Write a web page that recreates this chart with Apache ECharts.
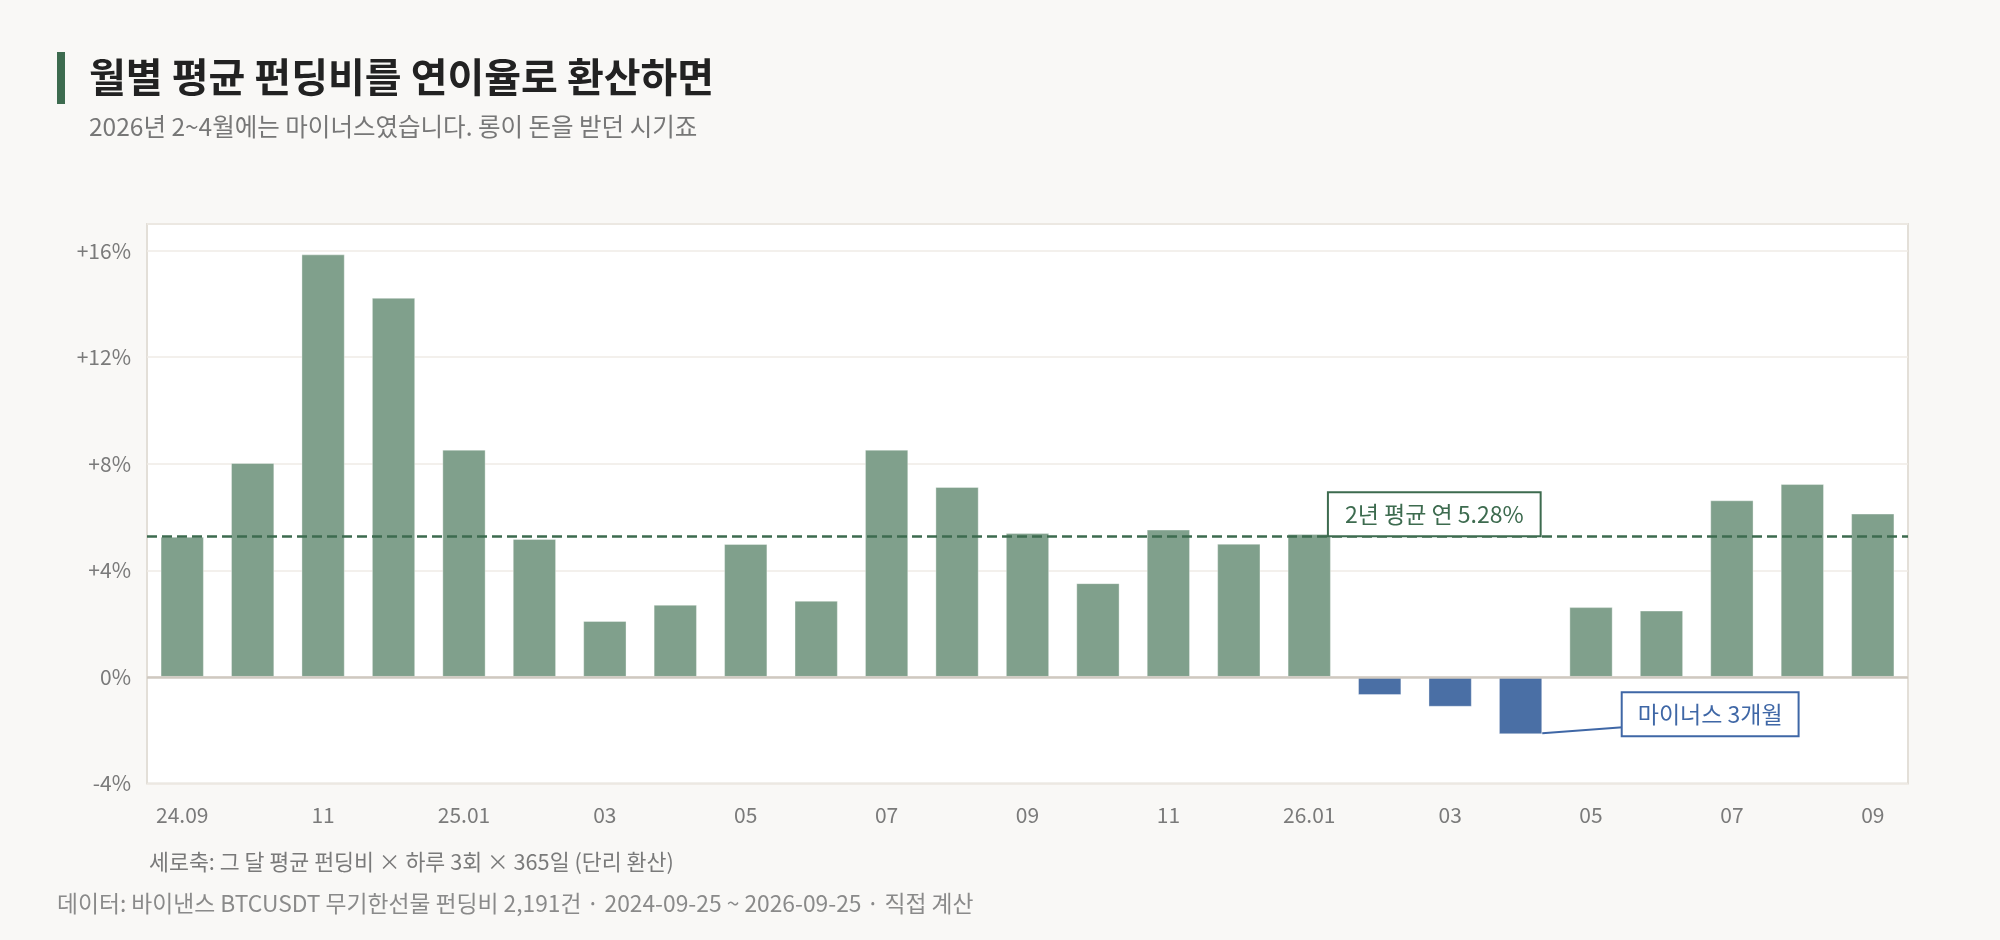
<!DOCTYPE html>
<html><head><meta charset="utf-8">
<script src="https://cdn.jsdelivr.net/npm/echarts@6/dist/echarts.min.js"></script>
<style>html,body{margin:0;padding:0;background:#f9f8f6;}#c{width:2000px;height:940px;}</style>
</head><body><div id="c"></div>
<script>
const months = ['2024-09','2024-10','2024-11','2024-12','2025-01','2025-02','2025-03','2025-04','2025-05','2025-06','2025-07','2025-08','2025-09','2025-10','2025-11','2025-12','2026-01','2026-02','2026-03','2026-04','2026-05','2026-06','2026-07','2026-08','2026-09'];
const tickLabels = ['24.09','10','11','12','25.01','02','03','04','05','06','07','08','09','10','11','12','26.01','02','03','04','05','06','07','08','09'];
const fundingAnnual = [5.26, 8.03, 15.86, 14.23, 8.53, 5.18, 2.10, 2.71, 4.99, 2.86, 8.53, 7.13, 5.40, 3.52, 5.53, 5.00, 5.36, -0.68, -1.12, -2.15, 2.62, 2.49, 6.63, 7.24, 6.13];
const twoYearAvg = 5.28;
const yMin = -4, yMax = 17, yStep = 4;

const FONT = '"Noto Sans CJK KR", "Noto Sans", sans-serif';
const GREEN = '#80a08c', BLUE = '#4a6fa5', DARK = '#3d6b4f', LABEL_BLUE = '#3f67a6';
const BAR_RATIO = 0.615;

const chart = echarts.init(document.getElementById('c'));
const option = {
  backgroundColor: '#f9f8f6',
  animation: false,
  textStyle: { fontFamily: FONT },
  title: [
    { text: '월별 평균 펀딩비를 연이율로 환산하면', left: 89, top: 53, padding: 0,
      textStyle: { fontSize: 40, fontWeight: 'bold', color: '#222', lineHeight: 48, fontFamily: FONT } },
    { text: '2026년 2~4월에는 마이너스였습니다. 롱이 돈을 받던 시기죠', left: 89, top: 112, padding: 0,
      textStyle: { fontSize: 24.5, fontWeight: 'normal', color: '#777', lineHeight: 30, fontFamily: FONT } },
    { text: '세로축: 그 달 평균 펀딩비 × 하루 3회 × 365일 (단리 환산)', left: 149, top: 849, padding: 0,
      textStyle: { fontSize: 21.7, fontWeight: 'normal', color: '#7a7a7a', lineHeight: 26, fontFamily: FONT } },
    { text: '데이터: 바이낸스 BTCUSDT 무기한선물 펀딩비 2,191건 · 2024-09-25 ~ 2026-09-25 · 직접 계산', left: 57, top: 890, padding: 0,
      textStyle: { fontSize: 22.8, fontWeight: 'normal', color: '#8a8a8a', lineHeight: 26, fontFamily: FONT } }
  ],
  grid: { left: 147, right: 92, top: 224, bottom: 156.5, show: true, backgroundColor: '#ffffff',
          borderColor: '#e3dfd8', borderWidth: 2, containLabel: false },
  xAxis: {
    type: 'category', data: months,
    axisLine: { show: false }, axisTick: { show: false },
    axisLabel: { interval: 1, margin: 21, fontSize: 21, color: '#7a7a7a', fontFamily: FONT,
                 formatter: (v, i) => tickLabels[i] }
  },
  yAxis: {
    type: 'value', min: yMin, max: yMax, interval: yStep,
    axisLine: { show: false }, axisTick: { show: false },
    axisLabel: { margin: 16, fontSize: 21, color: '#7a7a7a', fontFamily: FONT,
                 formatter: v => v === yMax ? '' : (v > 0 ? '+' : '') + v + '%' },
    splitLine: { lineStyle: { color: '#efebe6', width: 1.5 } }
  },
  series: [{
    type: 'bar', data: fundingAnnual, barWidth: (BAR_RATIO * 100) + '%',
    itemStyle: { color: p => p.value < 0 ? BLUE : GREEN, borderColor: 'rgba(255,255,255,0.35)', borderWidth: 1 },
    markLine: {
      silent: true, symbol: 'none', label: { show: false },
      data: [
        { yAxis: 0, lineStyle: { color: '#cfc9c0', width: 2.5, type: 'solid' } },
        { yAxis: twoYearAvg, lineStyle: { color: DARK, width: 2.7, type: [10, 5] } }
      ]
    }
  }],
  graphic: [
    { type: 'rect', id: 'titleBar', shape: { x: 57, y: 52, width: 8, height: 52 }, style: { fill: DARK } }
  ]
};
chart.setOption(option);

// annotations positioned through the chart's own scales
const px = (i, v) => chart.convertToPixel({ gridIndex: 0 }, [i, v]);
const catW = px(1, 0)[0] - px(0, 0)[0];
const halfBar = catW * BAR_RATIO / 2;
const avgAnchor = px(16, twoYearAvg);
let minIdx = 0;
fundingAnnual.forEach((v, i) => { if (v < fundingAnnual[minIdx]) minIdx = i; });
const minPt = px(minIdx, fundingAnnual[minIdx]);
const boxLeft = minPt[0] + catW * 1.45;

chart.setOption({
  graphic: [
    { type: 'rect', id: 'titleBar', shape: { x: 57, y: 52, width: 8, height: 52 }, style: { fill: DARK } },
    { type: 'text', id: 'avgLabel', x: avgAnchor[0] + halfBar - 2, y: avgAnchor[1] - 1, z: 100,
      style: { text: '2년 평균 연 5.28%', fill: DARK, font: '23px ' + FONT, lineHeight: 26,
               backgroundColor: '#ffffff', borderColor: DARK, borderWidth: 2, padding: [8, 16],
               align: 'left', verticalAlign: 'bottom' } },
    { type: 'line', id: 'minLeader', z: 99,
      shape: { x1: minPt[0] + halfBar, y1: minPt[1] - 1, x2: boxLeft, y2: minPt[1] - 7 },
      style: { stroke: LABEL_BLUE, lineWidth: 2 } },
    { type: 'text', id: 'minLabel', x: boxLeft, y: minPt[1] + 1, z: 100,
      style: { text: '마이너스 3개월', fill: LABEL_BLUE, font: '23px ' + FONT, lineHeight: 26,
               backgroundColor: '#ffffff', borderColor: LABEL_BLUE, borderWidth: 2, padding: [8, 15],
               align: 'left', verticalAlign: 'bottom' } }
  ]
});
</script></body></html>
